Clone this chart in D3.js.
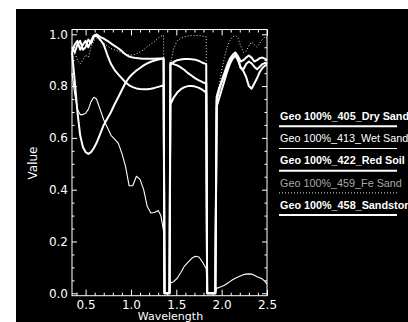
<!DOCTYPE html>
<html><head><meta charset="utf-8">
<script src="https://cdn.jsdelivr.net/npm/d3@7"></script>
<style>
html,body{margin:0;padding:0;background:#fff;}
svg{display:block;}
</style></head>
<body>
<svg id="chart" width="408" height="322"></svg>
<script>
// ---------------- data ----------------
const wavelengths = [0.35,0.38,0.41,0.44,0.47,0.50,0.53,0.56,0.59,0.62,0.66,0.70,0.74,0.78,0.82,0.86,0.90,0.94,0.98,1.02,
  1.06,1.10,1.14,1.18,1.22,1.26,1.30,1.33,1.36,1.37,1.425,1.435,1.47,1.51,1.55,1.59,1.63,1.67,1.71,1.75,
  1.79,1.83,1.84,1.93,1.945,1.97,2.00,2.03,2.06,2.09,2.12,2.15,2.18,2.21,2.24,2.27,2.30,2.33,2.36,2.39,
  2.42,2.45,2.48,2.50];

const drySand = [0.93,0.96,0.975,0.94,0.96,0.975,0.95,0.975,0.995,1.0,0.99,0.983,0.975,0.965,0.955,0.946,0.935,0.922,0.914,0.91,
  0.908,0.907,0.906,0.906,0.906,0.906,0.907,0.907,0.907,0,0,0.885,0.893,0.9,0.903,0.905,0.905,0.904,0.902,0.897,
  0.89,0.885,0,0,0.745,0.78,0.82,0.85,0.88,0.905,0.92,0.93,0.915,0.895,0.9,0.91,0.918,0.91,0.895,0.9,
  0.908,0.91,0.905,0.9];

const wetSand = [0.85,0.77,0.71,0.69,0.69,0.695,0.71,0.74,0.757,0.75,0.71,0.67,0.64,0.61,0.595,0.58,0.54,0.49,0.415,0.415,
  0.452,0.44,0.40,0.335,0.31,0.312,0.32,0.30,0.24,0,0,0.04,0.045,0.058,0.08,0.105,0.12,0.135,0.143,0.14,
  0.12,0.095,0,0,0.02,0.022,0.026,0.031,0.038,0.045,0.052,0.058,0.063,0.068,0.072,0.074,0.075,0.074,0.07,0.064,
  0.06,0.055,0.045,0.035];

const redSoil = [0.93,0.82,0.70,0.61,0.565,0.545,0.538,0.545,0.56,0.58,0.615,0.65,0.675,0.70,0.73,0.757,0.785,0.813,0.833,0.848,
  0.86,0.87,0.88,0.888,0.894,0.899,0.903,0.905,0.907,0,0,0.89,0.885,0.88,0.872,0.862,0.85,0.84,0.83,0.822,
  0.815,0.81,0,0,0.76,0.79,0.815,0.84,0.865,0.89,0.91,0.92,0.905,0.87,0.865,0.885,0.895,0.888,0.875,0.865,
  0.875,0.885,0.89,0.885];

const feSand = [0.90,0.93,0.90,0.885,0.90,0.92,0.91,0.95,0.975,0.985,0.975,0.965,0.955,0.945,0.94,0.935,0.928,0.922,0.92,0.92,
  0.925,0.932,0.94,0.952,0.962,0.972,0.985,0.993,0.996,0,0,0.88,0.945,0.975,0.985,0.99,0.993,0.995,0.995,0.995,
  0.993,0.99,0,0,0.74,0.80,0.86,0.91,0.95,0.975,0.99,0.996,0.985,0.955,0.93,0.935,0.955,0.97,0.96,0.95,
  0.965,0.98,0.99,0.985];

const sandstone = [0.95,0.93,0.96,0.975,0.94,0.95,0.98,0.965,0.99,0.995,0.98,0.96,0.92,0.885,0.862,0.845,0.83,0.815,0.803,0.796,
  0.791,0.789,0.788,0.788,0.79,0.793,0.797,0.80,0.802,0,0,0.73,0.755,0.775,0.788,0.796,0.80,0.80,0.798,0.793,
  0.785,0.775,0,0,0.72,0.75,0.785,0.82,0.855,0.885,0.905,0.918,0.90,0.872,0.858,0.835,0.80,0.79,0.81,0.83,
  0.855,0.87,0.88,0.88];

const seriesNames = ["Geo 100%_405_Dry Sand","Geo 100%_413_Wet Sand","Geo 100%_422_Red Soil","Geo 100%_459_Fe Sand","Geo 100%_458_Sandstone"];
const seriesValues = [drySand, wetSand, redSoil, feSand, sandstone];
const xTickValues = [0.5,1.0,1.5,2.0,2.5];
const yTickValues = [0.0,0.2,0.4,0.6,0.8,1.0];
const xLabel = "Wavelength";
const yLabel = "Value";

// ---------------- styles ----------------
const styles = [
  {w:2,   dash:null,  col:"#fff", weight:"bold",   tcol:"#fff"},
  {w:1.1, dash:null,  col:"#fff", weight:"normal", tcol:"#fff"},
  {w:2,   dash:null,  col:"#fff", weight:"bold",   tcol:"#fff"},
  {w:1,   dash:"1,2", col:"#e8e8e8", weight:"normal", tcol:"#a8a8a8"},
  {w:2,   dash:null,  col:"#fff", weight:"bold",   tcol:"#fff"}
];

const svg = d3.select("#chart");
svg.append("rect").attr("x",16).attr("y",9).attr("width",392).attr("height",313).attr("fill","#000");

const x = d3.scaleLinear().domain([0.35,2.5]).range([72,267]);
const y = d3.scaleLinear().domain([-0.0093,1.0185]).range([295.7,29.5]);

const axisFont = "DejaVu Sans, Verdana, sans-serif";

// minor ticks
const xMinor = d3.range(4,25).map(d=>d/10).filter(v=>Math.abs(v*2-Math.round(v*2))>1e-6);
const yMinor = d3.range(1,20).map(d=>d/20).filter(v=>Math.abs(v*5-Math.round(v*5))>1e-6);

function styleAxis(g){
  g.select(".domain").remove();
  g.selectAll("line").attr("stroke","#fff").attr("stroke-width",1);
  g.selectAll("text").attr("fill","#fff").style("font-family",axisFont).style("font-size","12px");
}

const y0 = y.range()[0], y1 = y.range()[1];
const x0 = x.range()[0], x1 = x.range()[1];

svg.append("g").attr("transform",`translate(0,${y0})`)
  .call(d3.axisBottom(x).tickValues(xTickValues).tickSize(-6).tickPadding(4.5).tickFormat(d3.format(".1f"))).call(styleAxis);
svg.append("g").attr("transform",`translate(0,${y0})`)
  .call(d3.axisBottom(x).tickValues(xMinor).tickSize(-3).tickFormat("")).call(styleAxis);
svg.append("g").attr("transform",`translate(0,${y1})`)
  .call(d3.axisTop(x).tickValues(xTickValues).tickSize(-6).tickFormat("")).call(styleAxis);
svg.append("g").attr("transform",`translate(0,${y1})`)
  .call(d3.axisTop(x).tickValues(xMinor).tickSize(-3).tickFormat("")).call(styleAxis);

svg.append("g").attr("transform",`translate(${x0},0)`)
  .call(d3.axisLeft(y).tickValues(yTickValues).tickSize(-5).tickPadding(4).tickFormat(d3.format(".1f"))).call(styleAxis);
svg.append("g").attr("transform",`translate(${x0},0)`)
  .call(d3.axisLeft(y).tickValues(yMinor).tickSize(-2.5).tickFormat("")).call(styleAxis);
svg.append("g").attr("transform",`translate(${x1},0)`)
  .call(d3.axisRight(y).tickValues(yTickValues).tickSize(-5).tickFormat("")).call(styleAxis);
svg.append("g").attr("transform",`translate(${x1},0)`)
  .call(d3.axisRight(y).tickValues(yMinor).tickSize(-2.5).tickFormat("")).call(styleAxis);

// frame
svg.append("rect").attr("x",x0).attr("y",y1).attr("width",x1-x0).attr("height",y0-y1)
  .attr("fill","none").attr("stroke","#fff").attr("stroke-width",1);

// axis titles
svg.append("text").attr("x",(x0+x1)/2+1).attr("y",319.5).attr("text-anchor","middle")
  .attr("fill","#fff").style("font-family",axisFont).style("font-size","11px").text(xLabel);
svg.append("text").attr("transform","translate(37,163) rotate(-90)").attr("text-anchor","middle")
  .attr("fill","#fff").style("font-family",axisFont).style("font-size","12px").text(yLabel);

// curves
const line = d3.line().x((d,i)=>x(wavelengths[i])).y(d=>y(d));
const order = [3,1,4,2,0];
order.forEach(k=>{
  const s = styles[k];
  const p = svg.append("path").datum(seriesValues[k]).attr("d",line)
    .attr("fill","none").attr("stroke",s.col).attr("stroke-width",s.w)
    .attr("stroke-linejoin","round");
  if (s.dash) p.attr("stroke-dasharray",s.dash);
});

// legend
const leg = svg.append("g");
seriesNames.forEach((name,i)=>{
  const s = styles[i];
  const by = 120 + i*22.2;
  leg.append("text").attr("x",280).attr("y",by).attr("fill",s.tcol)
    .style("font-family","Liberation Sans, Arial, sans-serif").style("font-size","10.8px")
    .style("font-weight",s.weight).text(name);
  const l = leg.append("line").attr("x1",279).attr("x2",397).attr("y1",by+6.3).attr("y2",by+6.3)
    .attr("stroke",s.col).attr("stroke-width",s.w);
  if (s.dash) l.attr("stroke-dasharray",s.dash);
});
</script>
</body></html>
